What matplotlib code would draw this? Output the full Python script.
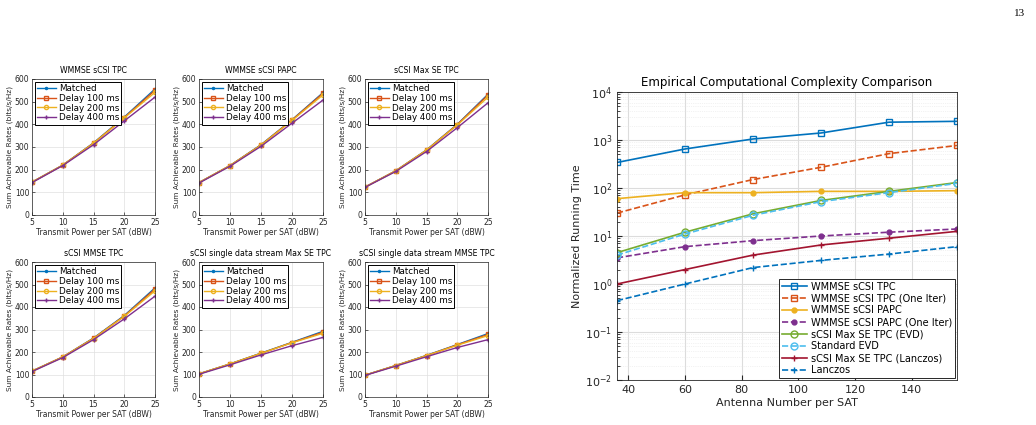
import numpy as np
import matplotlib.pyplot as plt

# ---- left panels: sum rate vs transmit power ----
power = [5, 10, 15, 20, 25]
delay_labels = ['Matched', 'Delay 100 ms', 'Delay 200 ms', 'Delay 400 ms']
panel_titles = ['WMMSE sCSI TPC', 'WMMSE sCSI PAPC', 'sCSI Max SE TPC',
                'sCSI MMSE TPC', 'sCSI single data stream Max SE TPC',
                'sCSI single data stream MMSE TPC']

wmmse_tpc = [[145, 220, 318, 432, 556],
             [145, 220, 317, 430, 550],
             [145, 220, 316, 428, 541],
             [143, 218, 310, 415, 520]]
wmmse_papc = [[143, 218, 310, 420, 540],
              [143, 218, 309, 419, 537],
              [143, 218, 308, 417, 530],
              [141, 215, 303, 405, 507]]
maxse_tpc = [[123, 195, 287, 400, 533],
             [123, 195, 286, 399, 529],
             [123, 195, 286, 397, 520],
             [122, 192, 280, 385, 495]]
mmse_tpc = [[115, 178, 262, 362, 485],
            [115, 178, 261, 360, 480],
            [115, 178, 260, 358, 472],
            [113, 175, 255, 347, 448]]
ss_maxse = [[103, 147, 195, 243, 292],
            [103, 147, 194, 242, 288],
            [103, 147, 194, 241, 283],
            [101, 143, 187, 228, 265]]
ss_mmse = [[97, 140, 185, 233, 282],
           [97, 140, 184, 232, 278],
           [97, 140, 184, 230, 273],
           [96, 137, 179, 220, 255]]
panels = [wmmse_tpc, wmmse_papc, maxse_tpc, mmse_tpc, ss_maxse, ss_mmse]

# ---- right panel: running time ----
antennas = [36, 60, 84, 108, 132, 156]
rt_labels = ['WMMSE sCSI TPC', 'WMMSE sCSI TPC (One Iter)', 'WMMSE sCSI PAPC',
             'WMMSE sCSI PAPC (One Iter)', 'sCSI Max SE TPC (EVD)', 'Standard EVD',
             'sCSI Max SE TPC (Lanczos)', 'Lanczos']
rt_values = [[340, 650, 1050, 1400, 2350, 2450],
             [30, 72, 150, 270, 520, 770],
             [60, 80, 80, 85, 85, 88],
             [3.5, 6, 8, 10, 12, 14],
             [4.5, 12, 29, 55, 85, 130],
             [4.0, 11, 27, 52, 80, 125],
             [1.0, 2.0, 4.0, 6.5, 9, 12.5],
             [0.45, 1.0, 2.2, 3.1, 4.2, 6.0]]

c = ['#0072BD', '#D95319', '#EDB120', '#7E2F8E', '#77AC30', '#4DBEEE', '#A2142F']
W, H = 1036, 425

fig = plt.figure(figsize=(W / 100, H / 100), dpi=100)
fig.text(1020 / W, 1 - 14 / H, '13', fontsize=8, ha='center', va='center',
         family='Liberation Serif')

def px_axes(left, top, right, bottom):
    return fig.add_axes([left / W, 1 - bottom / H, (right - left) / W, (bottom - top) / H])

col_x = [(32, 155), (199, 323), (365, 488)]
row_y = [(79, 215), (262, 397)]
d_colors = [c[0], c[1], c[2], c[3]]
d_markers = ['.', 's', 'o', '+']

for i, data in enumerate(panels):
    r, k = divmod(i, 3)
    ax = px_axes(col_x[k][0], row_y[r][0], col_x[k][1], row_y[r][1])
    for j, series in enumerate(data):
        ax.plot(power, series, color=d_colors[j], marker=d_markers[j], ms=3,
                mfc='none' if j in (1, 2) else d_colors[j], lw=1, label=delay_labels[j])
    ax.set_xlim(5, 25)
    ax.set_ylim(0, 600)
    ax.set_xticks(power)
    ax.set_yticks(range(0, 601, 100))
    ax.tick_params(labelsize=5.5, length=2, width=0.5, colors='#262626', direction='in', pad=2)
    ax.grid(True, color='#e0e0e0', lw=0.5)
    for s in ax.spines.values():
        s.set_linewidth(0.5)
        s.set_color('#262626')
    ax.set_title(panel_titles[i], fontsize=5.6, pad=4)
    ax.set_xlabel('Transmit Power per SAT (dBW)', fontsize=5.5, labelpad=1, color='#262626')
    ax.set_ylabel('Sum Achievable Rates (bits/s/Hz)', fontsize=5.3, labelpad=1, color='#262626')
    leg = ax.legend(loc='upper left', fontsize=6.3, handlelength=2.2, borderpad=0.25,
                    labelspacing=0.1, handletextpad=0.3, fancybox=False, framealpha=1,
                    borderaxespad=0.3)
    leg.get_frame().set_edgecolor('black')
    leg.get_frame().set_linewidth(0.7)

# right panel
ax = px_axes(617, 92, 957, 380)
styles = [(c[0], '-', 's'), (c[1], '--', 's'), (c[2], '-', '.'), (c[3], '--', '.'),
          (c[4], '-', 'o'), (c[5], '--', 'o'), (c[6], '-', '+'), (c[0], '--', '+')]
for j, series in enumerate(rt_values):
    col, ls, mk = styles[j]
    ax.plot(antennas, series, color=col, ls=ls, marker=mk, ms=5 if mk != '.' else 7,
            mfc='none' if mk in ('s', 'o') else col, lw=1.2, label=rt_labels[j])
ax.set_yscale('log')
ax.set_xlim(36, 156)
ax.set_ylim(1e-2, 1e4)
ax.set_xticks([40, 60, 80, 100, 120, 140])
ax.tick_params(labelsize=8, colors='#262626', direction='in', which='both')
ax.grid(True, which='major', color='#dcdcdc', lw=0.8)
ax.grid(True, which='minor', color='#e6e6e6', lw=0.5, ls=':')
for s in ax.spines.values():
    s.set_linewidth(0.6)
    s.set_color('#262626')
ax.set_title('Empirical Computational Complexity Comparison', fontsize=8.5, pad=4)
ax.set_xlabel('Antenna Number per SAT', fontsize=8, labelpad=2, color='#262626')
ax.set_ylabel('Normalized Running Time', fontsize=8, labelpad=2, color='#262626')
leg = ax.legend(loc='lower right', fontsize=7, handlelength=2.6, borderpad=0.3,
                labelspacing=0.2, handletextpad=0.4, fancybox=False, framealpha=1,
                borderaxespad=0.2)
leg.get_frame().set_edgecolor('#262626')
leg.get_frame().set_linewidth(0.7)

fig.savefig('out.png', dpi=100)
